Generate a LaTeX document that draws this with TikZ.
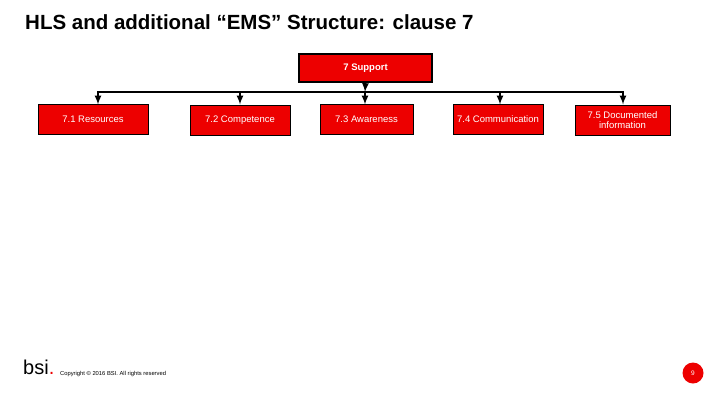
\documentclass[tikz,border=0pt]{standalone}
\usepackage{fontspec}
\setmainfont{Liberation Sans}
\usetikzlibrary{positioning}
\definecolor{BsiRed}{RGB}{237,0,0}
\tikzstyle{clauseBlock}=[draw=black,fill=BsiRed,text=white,minimum height=30pt,inner sep=1pt,align=center,font=\fontsize{9.5}{10.5}\selectfont]
\tikzstyle{headBlock}=[clauseBlock,line width=2.5pt,minimum width=133pt,minimum height=28pt,font=\bfseries\fontsize{9.5}{10}\selectfont]
\tikzstyle{invisNode}=[inner sep=0pt]
\tikzstyle{treeLink}=[-latex, line width=2pt]
\begin{document}
\begin{tikzpicture}[x=1pt,y=-1pt]
    \useasboundingbox (0,0) rectangle (720,405);
    % Title
    \node[invisNode,anchor=west] (title) at (25,22) {\bfseries\fontsize{20.5}{22}\selectfont HLS and additional “EMS” Structure: clause 7};

    % Parent
    \node[headBlock] (c7) at (365.5,68) {7 Support};

    % Children
    \node[clauseBlock,minimum width=110pt] (c71) at (93,119) {7.1 Resources};
    \node[clauseBlock,minimum width=100pt] (c72) at (240,120) {7.2 Competence};
    \node[clauseBlock,minimum width=93pt] (c73) at (366.5,119) {7.3 Awareness};
    \node[clauseBlock,minimum width=90pt] (c74) at (498,119) {7.4 Communication};
    \node[clauseBlock,minimum width=95pt] (c75) at (622.5,120) {7.5 Documented\\information};

    % Links
    \coordinate (bus) at (365,92);
    \draw[treeLink] (c7.south) -- (bus);
    \draw[line width=2pt] (97,92) -- (624,92);
    \foreach \n/\x in {c71/98, c72/240, c73/365, c74/500, c75/623}
        \draw[treeLink] (\x,91) -- (\x,104.5);

    % Footer
    \node[invisNode,anchor=west] (logo) at (23,367) {\fontsize{20}{20}\selectfont bsi\textcolor{BsiRed}{.}};
    \node[invisNode,anchor=west] (copy) at (60,374) {\fontsize{5.8}{6}\selectfont Copyright © 2016 BSI. All rights reserved};
    \node[circle,fill=BsiRed,text=white,minimum size=21pt,inner sep=0pt,font=\fontsize{6.5}{7}\selectfont] (page) at (693,373) {9};
\end{tikzpicture}
\end{document}
